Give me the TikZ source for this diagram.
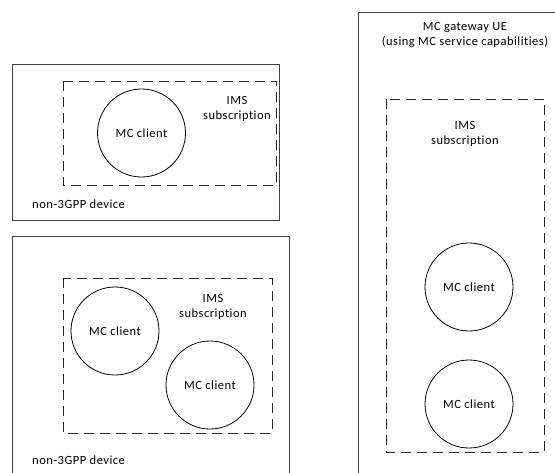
\documentclass[tikz,border=0pt]{standalone}
\usepackage{fontspec}
\setmainfont{Carlito}[LetterSpace=4, Ligatures={NoCommon,NoContextual}]
\usetikzlibrary{positioning}

\begin{document}
\begin{tikzpicture}[x=1pt, y=-1pt,
        font=\fontsize{12.5}{15.5}\selectfont,
        every node/.style={align=center},
        device/.style={draw=black!75, line width=1pt},
        imsbox/.style={draw=black!85, line width=1pt, dash pattern=on 10pt off 6pt},
        client/.style={draw, circle, line width=0.8pt, minimum size=88pt, inner sep=0pt},
        lbl/.style={inner sep=0pt}]

        \useasboundingbox (0,0) rectangle (555,472);
        \clip (0,0) rectangle (555,472);

        % oben links: ein Client
        \draw[device] (12.7,64) rectangle (279,220);
        \draw[imsbox] (63,81) rectangle (276,185);
        \node[client] (clientA) at (141.5,133) {MC client};
        \node[lbl] (imsA) at (237,109) {IMS\\subscription};
        \node[lbl, anchor=west] (devA) at (32,204) {non-3GPP device};

        % unten links: zwei Clients
        \draw[device] (12.7,236) rectangle (289,490);
        \draw[imsbox] (63,278) rectangle (272,433);
        \node[client] (clientB) at (115,331) {MC client};
        \node[client] (clientC) at (210,385) {MC client};
        \node[lbl] (imsB) at (213,307) {IMS\\subscription};
        \node[lbl, anchor=west] (devB) at (32,460) {non-3GPP device};

        % rechts: Gateway-UE
        \draw[device] (358,12) rectangle (570,490);
        \draw[imsbox] (386,99) rectangle (544,452);
        \node[lbl] (gw) at (465,35) {MC gateway UE\\(using MC service capabilities)};
        \node[lbl] (imsC) at (465,134) {IMS\\subscription};
        \node[client] (clientD) at (469,287) {MC client};
        \node[client] (clientE) at (469,404) {MC client};
    \end{tikzpicture}
\end{document}
